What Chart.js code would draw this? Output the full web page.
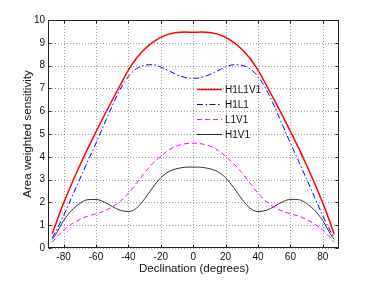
<!DOCTYPE html>
<html><head><meta charset="utf-8">
<script src="https://cdn.jsdelivr.net/npm/chart.js@4.4.0/dist/chart.umd.min.js"></script>
<style>html,body{margin:0;padding:0;background:#fff;}#wrap{width:374px;height:281px;position:relative;}</style>
</head><body><div id="wrap"><canvas id="c" width="374" height="281"></canvas></div>
<script>
// ---- data ----
const declination = [-87,-85,-80,-75,-70,-65,-60,-55,-50,-45,-40,-35,-30,-25,-20,-15,-10,-5,0,5,10,15,20,25,30,35,40,45,50,55,60,65,70,75,80,85,87];
const seriesNames = ['H1L1V1','H1L1','L1V1','H1V1'];
const h1l1v1 = [0.62,1.02,1.97,2.82,3.62,4.37,5.1,5.8,6.48,7.15,7.8,8.32,8.72,9.02,9.24,9.38,9.45,9.47,9.46,9.47,9.45,9.38,9.24,9.02,8.72,8.32,7.8,7.16,6.5,5.82,5.12,4.39,3.63,2.83,1.97,1.02,0.6];
const h1l1   = [0.45,0.7,1.42,2.22,3.02,3.82,4.6,5.42,6.23,6.97,7.52,7.86,8.01,8.04,7.94,7.77,7.6,7.48,7.44,7.48,7.6,7.77,7.94,8.04,8.01,7.86,7.52,6.97,6.23,5.42,4.6,3.82,3.02,2.22,1.42,0.7,0.45];
const l1v1   = [0.25,0.42,0.78,1.05,1.25,1.4,1.5,1.62,1.8,2.05,2.4,2.85,3.3,3.7,4.02,4.3,4.48,4.57,4.6,4.57,4.48,4.3,4.02,3.7,3.3,2.85,2.4,2.05,1.8,1.62,1.5,1.4,1.25,1.05,0.78,0.42,0.25];
const h1v1   = [0.38,0.58,1.2,1.65,1.95,2.12,2.13,2.02,1.82,1.65,1.6,1.75,2.15,2.65,3.08,3.35,3.48,3.54,3.55,3.54,3.48,3.35,3.08,2.65,2.15,1.75,1.6,1.65,1.82,2.02,2.13,2.12,1.95,1.65,1.2,0.58,0.38];
const xTickValues = [-80,-60,-40,-20,0,20,40,60,80];
const xTickLabels = ['-80','-60','-40','-20','0','20','40','60','80'];
const yTickValues = [0,1,2,3,4,5,6,7,8,9,10];
const yTickLabels = ['0','1','2','3','4','5','6','7','8','9','10'];
const xTitle = 'Declination (degrees)';
const yTitle = 'Area weighted sensitivity';

const FONT = "'Liberation Sans', Arial, Helvetica, sans-serif";
const toXY = ys => declination.map((x,i)=>({x, y: ys[i]}));

const styles = [
  {color:'#ff0000', width:1.5, dash:[]},
  {color:'#0000ff', width:1, dash:[6,2.5,1.5,2.5]},
  {color:'#ff00ff', width:1, dash:[5,3]},
  {color:'#000000', width:0.8, dash:[]}
];
const allSeries = [h1l1v1, h1l1, l1v1, h1v1];

const gridPlugin = {
  id:'gridbox',
  beforeDatasetsDraw(chart){
    const {ctx, chartArea:a, scales:{x,y}} = chart;
    ctx.save();
    ctx.strokeStyle='rgba(0,0,0,0.38)'; ctx.lineWidth=1; ctx.setLineDash([1,2]);
    xTickValues.forEach(v=>{const px=Math.round(x.getPixelForValue(v))+0.5; ctx.beginPath(); ctx.moveTo(px,a.top); ctx.lineTo(px,a.bottom); ctx.stroke();});
    yTickValues.forEach(v=>{const py=Math.round(y.getPixelForValue(v))+0.5; ctx.beginPath(); ctx.moveTo(a.left,py); ctx.lineTo(a.right,py); ctx.stroke();});
    ctx.restore();
  },
  afterDatasetsDraw(chart){
    const {ctx, chartArea:a, scales:{x,y}} = chart;
    ctx.save();
    ctx.strokeStyle='#222'; ctx.lineWidth=1; ctx.setLineDash([]);
    const L=Math.round(a.left)-0.5, R=Math.round(a.right)-0.5, T=Math.round(a.top)+0.5, B=Math.round(a.bottom)-0.5;
    ctx.strokeRect(L,T,R-L,B-T);
    const tl=3;
    xTickValues.forEach(v=>{const px=Math.round(x.getPixelForValue(v))+0.5; ctx.beginPath(); ctx.moveTo(px,B); ctx.lineTo(px,B-tl); ctx.moveTo(px,T); ctx.lineTo(px,T+tl); ctx.stroke();});
    yTickValues.forEach(v=>{const py=Math.round(y.getPixelForValue(v))+0.5; ctx.beginPath(); ctx.moveTo(L,py); ctx.lineTo(L+tl,py); ctx.moveTo(R,py); ctx.lineTo(R-tl,py); ctx.stroke();});
    // legend
    ctx.font = '10px '+FONT; ctx.textBaseline='middle'; ctx.textAlign='left';
    chart.data.datasets.forEach((ds,i)=>{
      const yy = a.top + 69.5 + i*15;
      ctx.strokeStyle=ds.borderColor; ctx.lineWidth=ds.borderWidth; ctx.setLineDash(ds.borderDash||[]);
      ctx.beginPath(); ctx.moveTo(a.left+148, yy); ctx.lineTo(a.left+173, yy); ctx.stroke();
      ctx.fillStyle='#111'; ctx.fillText(ds.label, a.left+176, yy+0.5);
    });
    ctx.restore();
  }
};

new Chart(document.getElementById('c'), {
  type:'line',
  data:{ datasets: seriesNames.map((n,i)=>({
    label:n, data:toXY(allSeries[i]), borderColor:styles[i].color, borderWidth:styles[i].width,
    borderDash:styles[i].dash, pointRadius:0, fill:false, cubicInterpolationMode:'monotone'
  }))},
  options:{
    responsive:false, animation:false, devicePixelRatio:1,
    layout:{padding:{left:0, top:20, right:35, bottom:0}},
    plugins:{legend:{display:false}, tooltip:{enabled:false}},
    scales:{
      x:{type:'linear', min:-89, max:90,
        afterBuildTicks(s){ s.ticks = xTickValues.map(v=>({value:v})); },
        afterFit(s){ s.height = 33; },
        grid:{display:false, drawTicks:false, tickLength:0}, border:{display:false},
        ticks:{padding:3, color:'#111', font:{family:FONT,size:10}, maxRotation:0, autoSkip:false,
          callback:(v)=>xTickLabels[xTickValues.indexOf(v)]},
        title:{display:true, text:xTitle, color:'#111', font:{family:FONT,size:11.6}, padding:{top:0,bottom:5}}
      },
      y:{type:'linear', min:0, max:10,
        afterBuildTicks(s){ s.ticks = yTickValues.map(v=>({value:v})); },
        afterFit(s){ s.width = 49; },
        grid:{display:false, drawTicks:false, tickLength:0}, border:{display:false},
        ticks:{padding:4, color:'#111', font:{family:FONT,size:10}, autoSkip:false,
          callback:(v)=>yTickLabels[yTickValues.indexOf(v)]},
        title:{display:true, text:yTitle, color:'#111', font:{family:FONT,size:11.6}, padding:{top:21,bottom:0}}
      }
    }
  },
  plugins:[gridPlugin]
});
</script></body></html>
